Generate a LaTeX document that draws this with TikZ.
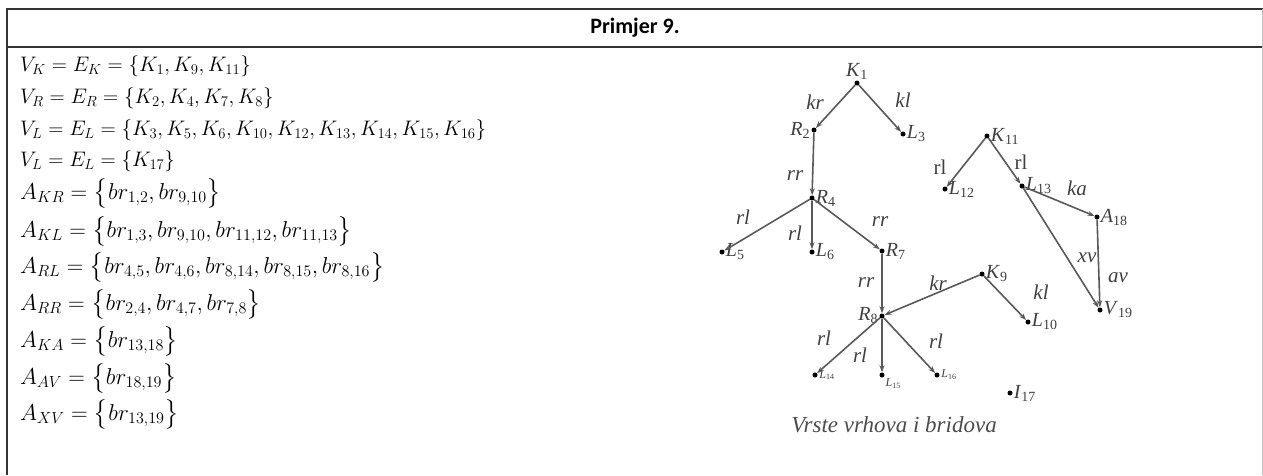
\documentclass[tikz,border=0pt]{standalone}
\usepackage{fix-cm}
\usepackage{amsmath}
\usepackage{fontspec}
\newfontfamily\grfont{Liberation Serif}
\newfontfamily\titlefont{Carlito}
\usetikzlibrary{arrows.meta}
\newcommand{\vname}[2]{\textit{#1}\textsubscript{#2}}

\begin{document}
\begin{tikzpicture}[x=1pt,y=-1pt]
\tikzset{
  vtx/.style={circle,fill=black,inner sep=0pt,minimum size=5pt},
  vlab/.style={font=\grfont\fontsize{20}{20}\selectfont,inner sep=1pt,text=black!75},
  smlab/.style={font=\grfont\fontsize{12}{12}\selectfont,inner sep=1.5pt,text=black!75},
  elab/.style={font=\grfont\itshape\fontsize{21}{21}\selectfont,inner sep=0pt,text=black!75},
  erlab/.style={font=\grfont\fontsize{21}{21}\selectfont,inner sep=0pt,text=black!75},
  arc/.style={-{Stealth[length=7pt,width=5pt]},line width=1.6pt,draw=black!65},
  setrow/.style={anchor=base west,inner sep=0pt,font=\fontsize{21}{24}\selectfont},
  arcrow/.style={anchor=base west,inner sep=0pt,font=\fontsize{23}{26}\selectfont}
}
\useasboundingbox (0,0) rectangle (1263,475);
% table frame
\draw[line width=2pt,black!80] (7,9) -- (1263,9);
\draw[line width=2pt,black!80] (7,47) -- (1263,47);
\draw[line width=2pt,black!80] (7,8) -- (7,475);
\draw[line width=1pt,black!25] (1262,9) -- (1262,475);
\node[font=\titlefont\bfseries\fontsize{22}{22}\selectfont] (title) at (635,28) {Primjer 9.};

% sets of vertices and edges
\node[setrow] (vk) at (20,71) {$V_{K} = E_{K} = \{K_{1}, K_{9}, K_{11}\}$};
\node[setrow] (vr) at (20,103) {$V_{R} = E_{R} = \{K_{2}, K_{4}, K_{7}, K_{8}\}$};
\node[setrow] (vl) at (20,135) {$V_{L} = E_{L} = \{K_{3}, K_{5}, K_{6}, K_{10}, K_{12}, K_{13}, K_{14}, K_{15}, K_{16}\}$};
\node[setrow] (vi) at (20,166) {$V_{L} = E_{L} = \{K_{17}\}$};
\node[arcrow] (akr) at (20,199) {$A_{KR} = \bigl\{br_{1,2}, br_{9,10}\bigr\}$};
\node[arcrow] (akl) at (20,237) {$A_{KL} = \bigl\{br_{1,3}, br_{9,10}, br_{11,12}, br_{11,13}\bigr\}$};
\node[arcrow] (arl) at (20,273) {$A_{RL} = \bigl\{br_{4,5}, br_{4,6}, br_{8,14}, br_{8,15}, br_{8,16}\bigr\}$};
\node[arcrow] (arr) at (20,310) {$A_{RR} = \bigl\{br_{2,4}, br_{4,7}, br_{7,8}\bigr\}$};
\node[arcrow] (aka) at (20,347) {$A_{KA} = \bigl\{br_{13,18}\bigr\}$};
\node[arcrow] (aav) at (20,384) {$A_{AV} = \bigl\{br_{18,19}\bigr\}$};
\node[arcrow] (axv) at (20,420) {$A_{XV} = \bigl\{br_{13,19}\bigr\}$};

% vertices
\node[vtx,label={[vlab]above:\vname{K}{1}}] (K1) at (857,83) {};
\node[vtx,label={[vlab]left:\vname{R}{2}}] (R2) at (814,130) {};
\node[vtx,label={[vlab]right:\vname{L}{3}}] (L3) at (903,134) {};
\node[vtx,label={[vlab]right:\vname{R}{4}}] (R4) at (812,198) {};
\node[vtx,label={[vlab]right:\vname{L}{5}}] (L5) at (722,252) {};
\node[vtx,label={[vlab]right:\vname{L}{6}}] (L6) at (812,252) {};
\node[vtx,label={[vlab]right:\vname{R}{7}}] (R7) at (882,251) {};
\node[vtx,label={[vlab]left:\vname{R}{8}}] (R8) at (882,316) {};
\node[vtx,label={[vlab]right:\vname{K}{9}}] (K9) at (982,274) {};
\node[vtx,label={[vlab]right:\vname{L}{10}}] (L10) at (1028,322) {};
\node[vtx,label={[vlab]right:\vname{K}{11}}] (K11) at (987,136) {};
\node[vtx,label={[vlab]right:\vname{L}{12}}] (L12) at (945,189) {};
\node[vtx,label={[vlab]right:\vname{L}{13}}] (L13) at (1022,186) {};
\node[vtx,label={[smlab]right:\vname{L}{14}}] (L14) at (815,375) {};
\node[vtx,label={[smlab]below right:\vname{L}{15}}] (L15) at (882,375) {};
\node[vtx,label={[smlab]right:\vname{L}{16}}] (L16) at (937,375) {};
\node[vtx,label={[vlab]right:\vname{I}{17}}] (I17) at (1010,393) {};
\node[vtx,label={[vlab]right:\vname{A}{18}}] (A18) at (1097,217) {};
\node[vtx,label={[vlab]right:\vname{V}{19}}] (V19) at (1100,310) {};

% edges
\draw[arc] (K1) -- (R2);
\draw[arc] (K1) -- (L3);
\draw[arc] (R2) -- (R4);
\draw[arc] (R4) -- (L5);
\draw[arc] (R4) -- (L6);
\draw[arc] (R4) -- (R7);
\draw[arc] (R7) -- (R8);
\draw[arc] (K9) -- (R8);
\draw[arc] (K9) -- (L10);
\draw[arc] (R8) -- (L14);
\draw[arc] (R8) -- (L15);
\draw[arc] (R8) -- (L16);
\draw[arc] (K11) -- (L12);
\draw[arc] (K11) -- (L13);
\draw[arc] (L13) -- (A18);
\draw[arc] (L13) -- (V19);
\draw[arc] (A18) -- (V19);

% edge labels
\node[elab] (e12) at (815,102) {kr};
\node[elab] (e13) at (903,100) {kl};
\node[elab] (e24) at (795,176) {rr};
\node[elab] (e45) at (743,217) {rl};
\node[elab] (e46) at (795,233) {rl};
\node[elab] (e47) at (880,222) {rr};
\node[elab] (e78) at (866,283) {rr};
\node[elab] (e98) at (938,283) {kr};
\node[elab] (e910) at (1041,292) {kl};
\node[elab] (e814) at (824,338) {rl};
\node[elab] (e815) at (860,355) {rl};
\node[elab] (e816) at (936,341) {rl};
\node[erlab] (e1112) at (940,167) {rl};
\node[erlab] (e1113) at (1021,162) {rl};
\node[elab] (e1318) at (1077,188) {ka};
\node[elab] (e1319) at (1087,258) {xv};
\node[elab] (e1819) at (1118,278) {av};

\node[font=\grfont\itshape\fontsize{23}{23}\selectfont,text=black!70] (caption) at (894,425) {Vrste vrhova i bridova};
\end{tikzpicture}
\end{document}
